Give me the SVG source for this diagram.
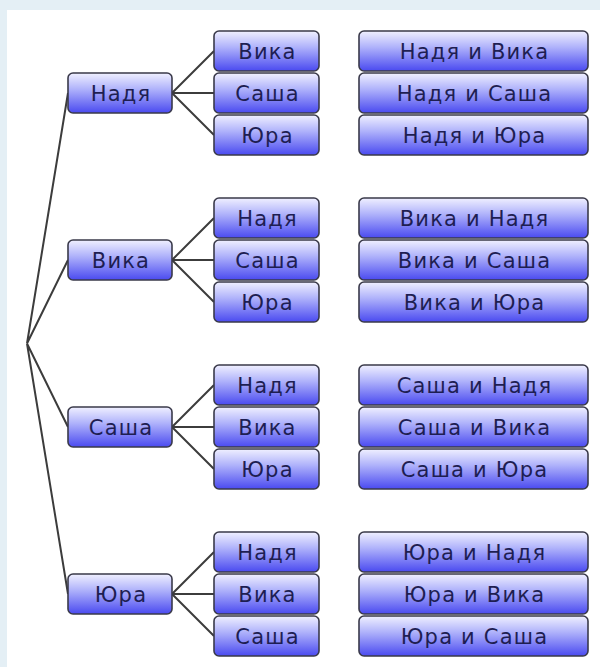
<svg xmlns="http://www.w3.org/2000/svg" width="600" height="667" viewBox="0 0 600 667">
<defs>
<linearGradient id="g" x1="0" y1="0" x2="0" y2="1">
<stop offset="0" stop-color="#f0f0ff"/>
<stop offset="0.4" stop-color="#b0b3fb"/>
<stop offset="1" stop-color="#4a4af0"/>
</linearGradient>
<style>
.b{fill:url(#g);stroke:#3a3a4a;stroke-width:1.6}
.t{font-family:"DejaVu Sans",Verdana,sans-serif;font-size:21px;fill:#1e1e52;text-anchor:middle;letter-spacing:1.2px}
.c{stroke:#3c3c3c;stroke-width:2;fill:none}
</style>
</defs>
<rect x="0" y="0" width="600" height="667" fill="#e4eff5"/>
<rect x="7" y="10" width="593" height="657" fill="#ffffff"/>
<g id="connectors">
<path class="c" d="M27 343.5L68 93M27 343.5L68 260M27 343.5L68 427M27 343.5L68 594"/>
<path class="c" d="M172 93L214 51M172 93L214 93M172 93L214 135"/>
<path class="c" d="M172 260L214 218M172 260L214 260M172 260L214 302"/>
<path class="c" d="M172 427L214 385M172 427L214 427M172 427L214 469"/>
<path class="c" d="M172 594L214 552M172 594L214 594M172 594L214 636"/>
</g>
<g id="n1"><rect class="b" x="68" y="73" width="104" height="40" rx="5"/><text class="t" x="121" y="100.5">Надя</text></g>
<g id="n2"><rect class="b" x="68" y="240" width="104" height="40" rx="5"/><text class="t" x="121" y="267.5">Вика</text></g>
<g id="n3"><rect class="b" x="68" y="407" width="104" height="40" rx="5"/><text class="t" x="121" y="434.5">Саша</text></g>
<g id="n4"><rect class="b" x="68" y="574" width="104" height="40" rx="5"/><text class="t" x="121" y="601.5">Юра</text></g>

<g id="n1a"><rect class="b" x="214" y="31" width="105" height="40" rx="5"/><text class="t" x="267.5" y="58.5">Вика</text></g>
<g id="n1b"><rect class="b" x="214" y="73" width="105" height="40" rx="5"/><text class="t" x="267.5" y="100.5">Саша</text></g>
<g id="n1c"><rect class="b" x="214" y="115" width="105" height="40" rx="5"/><text class="t" x="267.5" y="142.5">Юра</text></g>
<g id="n2a"><rect class="b" x="214" y="198" width="105" height="40" rx="5"/><text class="t" x="267.5" y="225.5">Надя</text></g>
<g id="n2b"><rect class="b" x="214" y="240" width="105" height="40" rx="5"/><text class="t" x="267.5" y="267.5">Саша</text></g>
<g id="n2c"><rect class="b" x="214" y="282" width="105" height="40" rx="5"/><text class="t" x="267.5" y="309.5">Юра</text></g>
<g id="n3a"><rect class="b" x="214" y="365" width="105" height="40" rx="5"/><text class="t" x="267.5" y="392.5">Надя</text></g>
<g id="n3b"><rect class="b" x="214" y="407" width="105" height="40" rx="5"/><text class="t" x="267.5" y="434.5">Вика</text></g>
<g id="n3c"><rect class="b" x="214" y="449" width="105" height="40" rx="5"/><text class="t" x="267.5" y="476.5">Юра</text></g>
<g id="n4a"><rect class="b" x="214" y="532" width="105" height="40" rx="5"/><text class="t" x="267.5" y="559.5">Надя</text></g>
<g id="n4b"><rect class="b" x="214" y="574" width="105" height="40" rx="5"/><text class="t" x="267.5" y="601.5">Вика</text></g>
<g id="n4c"><rect class="b" x="214" y="616" width="105" height="40" rx="5"/><text class="t" x="267.5" y="643.5">Саша</text></g>

<g id="r1a"><rect class="b" x="359" y="31" width="229" height="40" rx="5"/><text class="t" x="474.5" y="58.5">Надя и Вика</text></g>
<g id="r1b"><rect class="b" x="359" y="73" width="229" height="40" rx="5"/><text class="t" x="474.5" y="100.5">Надя и Саша</text></g>
<g id="r1c"><rect class="b" x="359" y="115" width="229" height="40" rx="5"/><text class="t" x="474.5" y="142.5">Надя и Юра</text></g>
<g id="r2a"><rect class="b" x="359" y="198" width="229" height="40" rx="5"/><text class="t" x="474.5" y="225.5">Вика и Надя</text></g>
<g id="r2b"><rect class="b" x="359" y="240" width="229" height="40" rx="5"/><text class="t" x="474.5" y="267.5">Вика и Саша</text></g>
<g id="r2c"><rect class="b" x="359" y="282" width="229" height="40" rx="5"/><text class="t" x="474.5" y="309.5">Вика и Юра</text></g>
<g id="r3a"><rect class="b" x="359" y="365" width="229" height="40" rx="5"/><text class="t" x="474.5" y="392.5">Саша и Надя</text></g>
<g id="r3b"><rect class="b" x="359" y="407" width="229" height="40" rx="5"/><text class="t" x="474.5" y="434.5">Саша и Вика</text></g>
<g id="r3c"><rect class="b" x="359" y="449" width="229" height="40" rx="5"/><text class="t" x="474.5" y="476.5">Саша и Юра</text></g>
<g id="r4a"><rect class="b" x="359" y="532" width="229" height="40" rx="5"/><text class="t" x="474.5" y="559.5">Юра и Надя</text></g>
<g id="r4b"><rect class="b" x="359" y="574" width="229" height="40" rx="5"/><text class="t" x="474.5" y="601.5">Юра и Вика</text></g>
<g id="r4c"><rect class="b" x="359" y="616" width="229" height="40" rx="5"/><text class="t" x="474.5" y="643.5">Юра и Саша</text></g>
</svg>
